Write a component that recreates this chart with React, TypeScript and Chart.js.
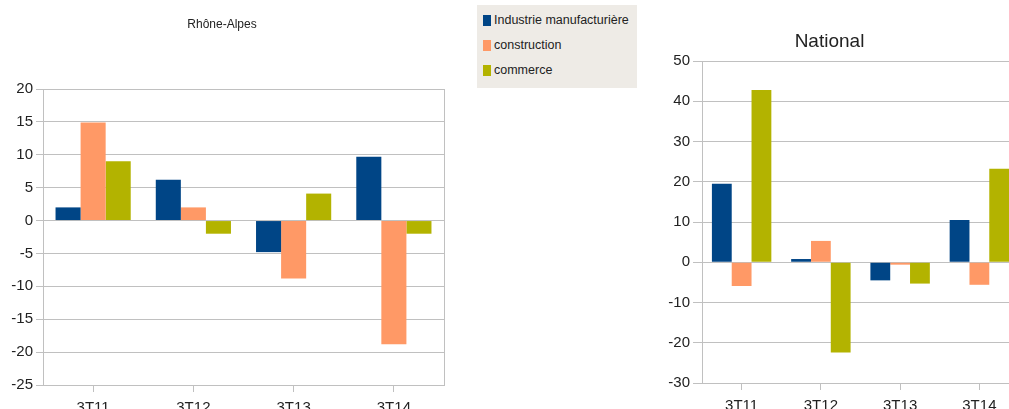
import React, { useEffect, useRef } from "react";
import { Chart, registerables } from "chart.js";

Chart.register(...registerables);

const categories = ["3T11", "3T12", "3T13", "3T14"];
const seriesNames = ["Industrie manufacturière", "construction", "commerce"];
const seriesColors = ["#004586", "#ff9966", "#b3b300"];

const rhoneIndustrie = [2.0, 6.2, -4.8, 9.7];
const rhoneConstruction = [14.9, 2.0, -8.8, -18.8];
const rhoneCommerce = [9.0, -2.0, 4.1, -2.0];

const natIndustrie = [19.5, 0.8, -4.5, 10.5];
const natConstruction = [-5.9, 5.3, -0.6, -5.6];
const natCommerce = [42.8, -22.4, -5.3, 23.2];

const FONT = "'Liberation Sans', Arial, sans-serif";
const GRID = "#c0c0c0";

const rightBorder = {
  id: "rightBorder",
  afterDraw(chart: any, _args: any, opts: any) {
    if (!opts || !opts.enabled) return;
    const { ctx, chartArea } = chart;
    ctx.save();
    ctx.strokeStyle = GRID;
    ctx.lineWidth = 1;
    ctx.beginPath();
    const x = Math.round(chartArea.right) + 0.5;
    ctx.moveTo(x, chartArea.top);
    ctx.lineTo(x, chartArea.bottom);
    ctx.stroke();
    ctx.restore();
  },
};

function makeConfig(p: {
  title: string;
  titleSize: number;
  titleTop: number;
  titleBottom: number;
  data: number[][];
  min: number;
  max: number;
  step: number;
  yWidth: number;
  xHeight: number;
  yTick: number;
  xPad: number;
  padRight: number;
  border: boolean;
}) {
  return {
    type: "bar" as const,
    data: {
      labels: categories,
      datasets: p.data.map((d, i) => ({
        label: seriesNames[i],
        data: d,
        backgroundColor: seriesColors[i],
        borderWidth: 0,
        categoryPercentage: 0.75,
        barPercentage: 1,
      })),
    },
    options: {
      responsive: false,
      animation: false,
      layout: { padding: { top: p.titleTop, right: p.padRight, left: 0, bottom: 0 } },
      plugins: {
        legend: { display: false },
        tooltip: { enabled: false },
        title: {
          display: true,
          text: p.title,
          color: "#222",
          font: { family: FONT, size: p.titleSize, weight: "normal" as const, lineHeight: 1.2 },
          padding: { top: 0, bottom: p.titleBottom },
        },
        rightBorder: { enabled: p.border },
      },
      scales: {
        x: {
          grid: {
            display: true,
            drawOnChartArea: false,
            offset: false,
            tickLength: 7,
            color: GRID,
          },
          border: { display: true, color: GRID },
          ticks: { color: "#222", font: { family: FONT, size: 15 }, padding: p.xPad },
          afterFit: (s: any) => {
            s.height = p.xHeight;
          },
        },
        y: {
          min: p.min,
          max: p.max,
          grid: { color: GRID, tickLength: p.yTick },
          border: { display: true, color: GRID },
          ticks: {
            stepSize: p.step,
            color: "#222",
            font: { family: FONT, size: 15 },
            padding: 3,
          },
          afterFit: (s: any) => {
            s.width = p.yWidth;
          },
        },
      },
    },
    plugins: [rightBorder],
  };
}

function BarChart({ config, width, height, style }: any) {
  const ref = useRef<HTMLCanvasElement | null>(null);
  useEffect(() => {
    if (!ref.current) return;
    const chart = new Chart(ref.current, config as any);
    return () => chart.destroy();
  }, []);
  return <canvas ref={ref} width={width} height={height} style={{ position: "absolute", ...style }} />;
}

export default function App() {
  const leftH = 430;
  const rightH = 430;
  const leftCfg = makeConfig({
    title: "Rhône-Alpes",
    titleSize: 12,
    titleTop: 17,
    titleBottom: 57.6,
    data: [rhoneIndustrie, rhoneConstruction, rhoneCommerce],
    min: -25,
    max: 20,
    step: 5,
    yWidth: 43,
    xHeight: leftH - 385,
    yTick: 7,
    xPad: 7,
    padRight: 8,
    border: true,
  });
  const rightCfg = makeConfig({
    title: "National",
    titleSize: 19,
    titleTop: 30.6,
    titleBottom: 7.6,
    data: [natIndustrie, natConstruction, natCommerce],
    min: -30,
    max: 50,
    step: 10,
    yWidth: 62,
    xHeight: rightH - 383,
    yTick: 9,
    xPad: 7,
    padRight: 89,
    border: false,
  });
  return (
    <div
      style={{
        position: "fixed",
        left: 0,
        top: 0,
        width: 1009,
        height: 409,
        overflow: "hidden",
        background: "#fff",
      }}
    >
      <BarChart config={leftCfg} width={452} height={leftH} style={{ left: 0, top: 0 }} />
      <BarChart config={rightCfg} width={468} height={rightH} style={{ left: 640, top: 0 }} />
      <div
        style={{
          position: "absolute",
          left: 477,
          top: 5,
          width: 160,
          height: 83,
          background: "#eeebe6",
          fontFamily: FONT,
          fontSize: 12.5,
          color: "#222",
        }}
      >
        {seriesNames.map((n, i) => (
          <div
            key={n}
            style={{
              position: "absolute",
              left: 6,
              top: 7 + i * 25,
              height: 16,
              display: "flex",
              alignItems: "center",
              whiteSpace: "nowrap",
            }}
          >
            <span
              style={{
                display: "inline-block",
                width: 8,
                height: 11,
                background: seriesColors[i],
                marginRight: 3,
              }}
            />
            <span>{n}</span>
          </div>
        ))}
      </div>
    </div>
  );
}
